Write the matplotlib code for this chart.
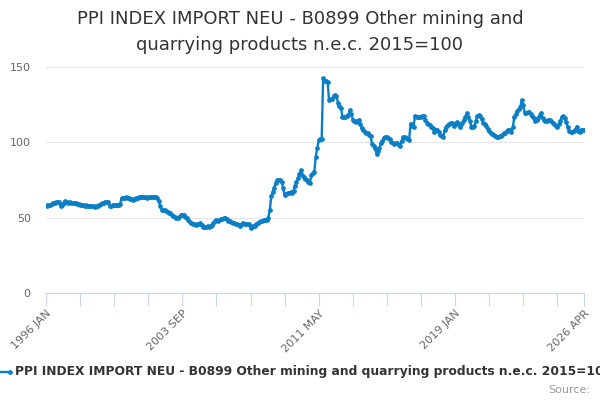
import numpy as np
import matplotlib.pyplot as plt
from matplotlib.lines import Line2D

# monthly index values, 1996 JAN .. 2026 APR
ppi_1996_2003 = [
    58.5, 58, 58.5, 58.5, 59, 59.5, 60, 60.5, 60.5, 60.5, 58, 58.5,
    60, 61, 60.5, 60, 60.5, 60, 59.5, 60, 59.5, 59, 59, 58.5,
    58.5, 58.5, 58, 58.5, 58, 58, 57.5, 57.5, 57.5, 57, 57.5, 58,
    58.5, 59, 59.5, 60, 60.5, 60.5, 60.5, 58, 58, 58.5, 58.5, 58.5,
    58.5, 58.5, 59, 63, 63, 63, 63.5, 63, 63, 62.5, 62.5, 62,
    62.5, 63, 63, 63.5, 64, 64, 63.5, 63.5, 63, 63.5, 63.5, 64,
    64, 63.5, 64, 63, 61, 58, 55, 55, 55, 54.5, 54, 53,
    53, 52, 51, 50.5, 50, 50, 50.5, 51.5, 52, 51.5, 50.5, 50,
]
ppi_2004_2011 = [
    48.5, 47, 46.5, 46, 45.5, 45, 45.5, 46, 46.5, 45, 44, 43.5,
    44, 44.5, 44, 44.5, 45, 46.5, 48, 48.5, 48, 48.5, 49, 49,
    49.5, 50, 49, 48, 47.5, 47, 46.5, 46.5, 46, 45.5, 45, 44.5,
    45.5, 46.5, 46, 46, 45.5, 46, 43, 44, 44.5, 44.5, 45.5, 46.5,
    47, 47.5, 48, 48.5, 48.5, 48.5, 50, 55, 64.5, 67, 70, 73,
    75, 75, 75, 74, 70, 65, 66, 66.5, 66.5, 67, 66.5, 68,
    71, 74, 76, 79, 81.5, 78, 77, 75.5, 75, 74, 73, 78,
    79.5, 80, 90.5, 96, 101.5, 102, 102, 142.5, 141, 140.5, 140, 128,
]
ppi_2012_2019 = [
    128.5, 128.5, 131, 131.5, 131, 126, 124, 123, 117, 117, 117, 117.5,
    118, 121.5, 119, 115, 114, 113.5, 114, 115, 112, 109.5, 108, 107,
    106.5, 106, 105, 104.5, 99, 97.5, 96, 92.5, 94, 96, 99.5, 101,
    103, 103.5, 103.5, 103, 102, 100, 99.5, 99, 99.5, 99.5, 98, 97.5,
    101, 103.5, 103.5, 103, 102, 101.5, 112.5, 111, 110.5, 117.5, 117, 116.5,
    116.5, 117, 117.5, 117.5, 115, 113, 112, 111.5, 110, 109.5, 107, 108,
    108.5, 107, 105, 104, 103.5, 108, 110, 111.5, 112, 113, 113, 111,
    112.5, 113.5, 112, 110.5, 112, 113, 114.5, 117, 119.5, 117, 114, 110.5,
]
ppi_2020_2026 = [
    110.5, 111, 114, 117.5, 118, 117.5, 115.5, 113, 112, 111, 109, 107.5,
    106.5, 105.5, 105, 104.5, 103.5, 103.5, 104, 104.5, 105, 106, 106.5, 107.5,
    108.5, 108, 107, 110, 117, 119, 120.5, 122, 123.5, 128, 125, 119.5,
    119.5, 120, 120, 119, 117.5, 116, 114, 114.5, 116, 118, 119.5, 116,
    115, 114, 114, 114.5, 115, 114, 113, 112, 111, 110, 112, 114,
    117, 117.5, 116, 113.5, 110, 107.5, 107, 107, 107.5, 108, 110.5, 107.5,
    107, 108, 108.5, 108,
]
values = ppi_1996_2003 + ppi_2004_2011 + ppi_2012_2019 + ppi_2020_2026

months = ['JAN', 'FEB', 'MAR', 'APR', 'MAY', 'JUN', 'JUL', 'AUG', 'SEP', 'OCT', 'NOV', 'DEC']
labels = [f"{1996 + i // 12} {months[i % 12]}" for i in range(len(values))]

series_name = 'PPI INDEX IMPORT NEU - B0899 Other mining and quarrying products n.e.c. 2015=100'
title = 'PPI INDEX IMPORT NEU - B0899 Other mining and\nquarrying products n.e.c. 2015=100'

blue = '#0a7fc6'
axis_col = '#ccd6eb'
grid_col = '#e6e6e6'
lab_col = '#666666'

fig = plt.figure(figsize=(6, 4), dpi=100)
ax = fig.add_axes([46/600, 1 - 293/400, (584 - 46)/600, (293 - 67)/400])

x = np.arange(len(values))
ax.plot(x, values, color=blue, lw=1.7, marker='o', ms=2.4, mec=blue, mfc=blue)

ax.set_xlim(0, len(values) - 1)
ax.set_ylim(0, 150)
ax.set_yticks([0, 50, 100, 150])
ax.yaxis.grid(True, color=grid_col, lw=0.8)
ax.set_axisbelow(True)
for s in ['top', 'right', 'left']:
    ax.spines[s].set_visible(False)
ax.spines['bottom'].set_color(axis_col)
ax.tick_params(axis='y', length=0, labelsize=8, labelcolor=lab_col, pad=11)

ticks = list(range(0, len(values), 23)) + [len(values) - 1]
ax.set_xticks(ticks)
ax.set_xticklabels([labels[t] if t % 92 == 0 or t == len(values) - 1 else '' for t in ticks],
                   rotation=45, ha='right', rotation_mode='anchor')
ax.tick_params(axis='x', length=9, color=axis_col, labelsize=8, labelcolor=lab_col, pad=2)

fig.text(0.5, 1 - 32/400, title, ha='center', va='center', fontsize=13,
         color='#333333', linespacing=1.5)

# legend row at the bottom
fig.add_artist(Line2D([0, 10/600], [1 - 372/400] * 2, color=blue, lw=1.7,
                      marker='o', ms=2.4, markevery=[1], transform=fig.transFigure))
fig.text(15/600, 1 - 372/400, series_name, ha='left', va='center', fontsize=8.8,
         fontweight='bold', color='#333333')
fig.text(590/600, 1 - 390/400, 'Source:', ha='right', va='center', fontsize=8,
         color='#999999')

fig.savefig('out.png', dpi=100)
